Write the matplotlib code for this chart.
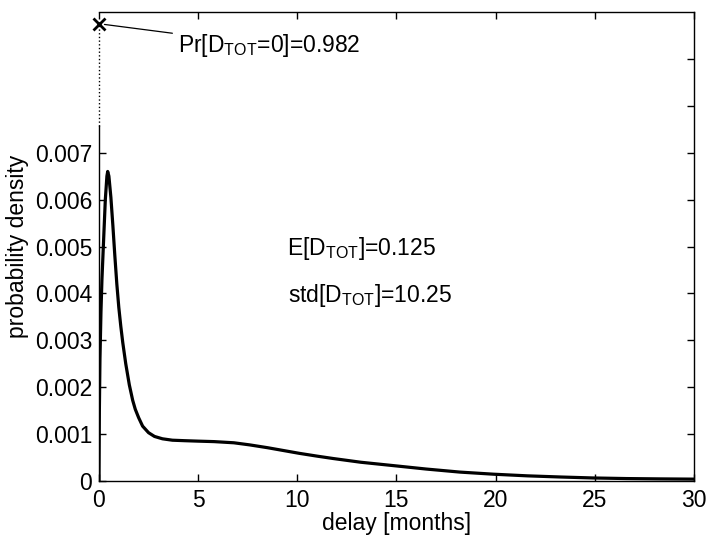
import matplotlib
matplotlib.use("Agg")
import matplotlib.pyplot as plt

plt.rcParams['font.family'] = ['Liberation Sans', 'DejaVu Sans']

# delay [months]
delay = [0, 0.02, 0.05, 0.1, 0.15, 0.22, 0.32, 0.4, 0.44, 0.5, 0.6, 0.7, 0.8, 0.9,
         1.0, 1.1, 1.2, 1.35, 1.53, 1.7, 1.83, 2.0, 2.2, 2.5, 2.8, 3.2, 3.7, 4.3,
         5.0, 5.8, 6.8, 7.6, 8.5, 9.3, 10.1, 11.0, 11.8, 13.2, 14.8, 16.5, 18.2, 19.9,
         21.6, 23.3, 24.9, 26.6, 28.3, 30.0]
# probability density (x 1e-3)
density_e3 = [0, 1.5, 2.6, 3.6, 4.3, 5.0, 6.0, 6.5, 6.6, 6.5, 6.05, 5.45, 4.8, 4.2,
              3.7, 3.3, 2.95, 2.5, 2.05, 1.72, 1.53, 1.35, 1.17, 1.03, 0.95, 0.9, 0.87, 0.86,
              0.85, 0.84, 0.815, 0.77, 0.71, 0.65, 0.59, 0.53, 0.48, 0.40, 0.33, 0.255, 0.19, 0.145,
              0.11, 0.085, 0.065, 0.052, 0.045, 0.04]
density = [v * 1e-3 for v in density_e3]

pr_zero = 0.982
pr_zero_plot_y = 0.00975
spine_top = 0.00757
mean_txt = "0.125"
std_txt = "10.25"

xticks = [0, 5, 10, 15, 20, 25, 30]
yticks_left = [0, 0.001, 0.002, 0.003, 0.004, 0.005, 0.006, 0.007]
ytick_labels = ["0", "0.001", "0.002", "0.003", "0.004", "0.005", "0.006", "0.007"]
yticks_right = [0.001, 0.002, 0.003, 0.004, 0.005, 0.006, 0.007, 0.008, 0.009]

FS = 16.5

fig = plt.figure(figsize=(7.1, 5.36), dpi=100)
ax = fig.add_axes([0.1394, 0.1026, 0.9775 - 0.1394, 0.9776 - 0.1026])

ax.plot(delay, density, color='black', lw=2.3, solid_joinstyle='round')
ax.set_xlim(0, 30)
ax.set_ylim(0, 0.010)

ax.set_xticks(xticks)
ax.set_xticklabels([str(t) for t in xticks], fontsize=FS)
ax.set_yticks(yticks_left)
ax.set_yticklabels(ytick_labels, fontsize=FS)
ax.tick_params(axis='both', direction='in', length=5, width=1, top=True, right=False)
ax.tick_params(axis='x', pad=6)
ax.tick_params(axis='y', pad=5)

sec = ax.secondary_yaxis('right')
sec.set_yticks(yticks_right)
sec.set_yticklabels([])
sec.tick_params(direction='in', length=5, width=1)
sec.spines['right'].set_linewidth(1.0)

for s in ['top', 'bottom', 'right']:
    ax.spines[s].set_linewidth(1.0)
ax.spines['right'].set_visible(False)
ax.spines['left'].set_linewidth(1.0)
ax.spines['left'].set_bounds(0, spine_top)

ax.plot([0, 0], [spine_top, pr_zero_plot_y], ls=':', color='black', lw=1, clip_on=False)
ax.plot([0], [pr_zero_plot_y], marker='x', color='black', ms=9, mew=2, clip_on=False)

ax.annotate(r"Pr[D$_{\mathregular{TOT}}$=0]=" + f"{pr_zero}",
            xy=(0, pr_zero_plot_y), xytext=(3.98, 0.00928),
            fontsize=FS, ha='left', va='center',
            arrowprops=dict(arrowstyle='-', color='black', lw=0.9, shrinkA=2, shrinkB=4))

ax.text(9.48, 0.00496, r"E[D$_{\mathregular{TOT}}$]=" + mean_txt, fontsize=FS, ha='left', va='center')
ax.text(9.53, 0.00396, r"std[D$_{\mathregular{TOT}}$]=" + std_txt, fontsize=FS, ha='left', va='center')

ax.set_xlabel("delay [months]", fontsize=FS, labelpad=0)
ax.set_ylabel("probability density", fontsize=FS, labelpad=4)

fig.savefig("out.png", dpi=100)
